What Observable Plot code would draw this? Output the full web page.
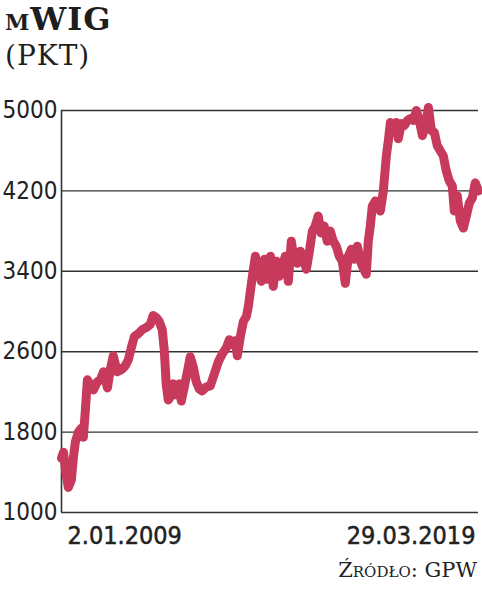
<!DOCTYPE html>
<html><head><meta charset="utf-8">
<script src="https://cdn.jsdelivr.net/npm/d3@7"></script>
<script src="https://cdn.jsdelivr.net/npm/@observablehq/plot@0.6"></script>
<style>
body{margin:0;background:#fff;width:482px;height:593px;position:relative;overflow:hidden}
#title{position:absolute;left:5px;top:3px;font-family:"DejaVu Serif";font-weight:bold;font-size:32px;line-height:32px;letter-spacing:1px;font-variant:small-caps;color:#1e1e1e;white-space:nowrap}
#sub{position:absolute;left:5px;top:42px;font-family:"DejaVu Serif";font-size:28px;line-height:28px;letter-spacing:1px;color:#1e1e1e;white-space:nowrap}
#chart{position:absolute;left:0;top:90px}
#source{position:absolute;right:5px;top:560px;font-family:"DejaVu Serif";font-size:21px;line-height:21px;font-variant:small-caps;color:#222;white-space:nowrap}
</style></head>
<body>
<div id="title">mWIG</div>
<div id="sub">(PKT)</div>
<div id="chart"></div>
<div id="source">Źródło: GPW</div>
<script>
const dates = ["2009-01-02","2009-01-20","2009-02-07","2009-03-04","2009-03-31","2009-04-18","2009-05-06","2009-06-02","2009-06-29","2009-07-17",
"2009-08-04","2009-08-22","2009-09-18","2009-10-15","2009-11-20","2009-12-17","2010-01-13","2010-02-18","2010-03-15","2010-04-11",
"2010-05-17","2010-06-22","2010-07-28","2010-08-24","2010-09-20","2010-10-17","2010-11-22","2010-12-28","2011-02-02","2011-03-08",
"2011-04-04","2011-05-01","2011-05-28","2011-06-24","2011-07-12","2011-07-30","2011-08-17","2011-09-04","2011-10-01","2011-10-28",
"2011-11-24","2011-12-12","2012-01-08","2012-02-13","2012-03-01","2012-03-28","2012-04-24","2012-05-21","2012-06-17","2012-07-23",
"2012-08-28","2012-10-03","2012-11-08","2012-12-14","2013-01-19","2013-02-15","2013-03-13","2013-04-09","2013-04-27","2013-05-24",
"2013-06-20","2013-07-17","2013-08-04","2013-08-22","2013-09-09","2013-10-06","2013-11-02","2013-11-29","2013-12-26","2014-01-22",
"2014-02-18","2014-03-15","2014-04-11","2014-05-08","2014-06-04","2014-07-01","2014-07-28","2014-08-24","2014-09-20","2014-10-17",
"2014-11-13","2014-12-10","2015-01-06","2015-02-02","2015-03-01","2015-03-26","2015-04-22","2015-05-19","2015-06-15","2015-07-12",
"2015-08-08","2015-09-04","2015-10-01","2015-10-28","2015-11-24","2015-12-21","2016-01-17","2016-02-13","2016-03-11","2016-04-07",
"2016-05-04","2016-05-30","2016-06-26","2016-07-14","2016-08-01","2016-08-19","2016-09-15","2016-10-12","2016-10-30","2016-11-26",
"2016-12-23","2017-01-10","2017-01-28","2017-02-24","2017-03-22","2017-04-09","2017-05-06","2017-06-02","2017-06-29","2017-07-26",
"2017-08-22","2017-09-18","2017-10-15","2017-11-11","2017-12-08","2018-01-04","2018-01-31","2018-02-27","2018-03-24","2018-04-20",
"2018-05-17","2018-06-13","2018-07-10","2018-08-06","2018-08-24","2018-09-20","2018-10-17","2018-11-13","2018-12-10","2019-01-06",
"2019-02-02","2019-02-28","2019-03-29"];
const values = [1540,1600,1420,1250,1320,1540,1700,1800,1840,1750,
2020,2320,2270,2220,2300,2320,2400,2240,2420,2560,
2400,2420,2460,2520,2640,2750,2780,2820,2840,2870,
2960,2940,2900,2820,2620,2270,2120,2150,2280,2170,
2280,2110,2250,2450,2550,2450,2300,2230,2210,2250,
2260,2380,2500,2580,2640,2720,2670,2710,2560,2750,
2900,2950,3050,3200,3350,3550,3400,3300,3520,3320,
3550,3250,3500,3350,3450,3550,3300,3700,3500,3480,
3600,3520,3420,3600,3800,3850,3950,3780,3850,3700,
3800,3700,3650,3550,3500,3280,3550,3620,3520,3650,
3500,3430,3370,3700,3850,4050,4100,4050,4000,4200,
4550,4700,4880,4850,4880,4720,4870,4850,4900,4920,
4900,5000,4900,4750,4850,5030,4800,4780,4650,4600,
4550,4400,4300,4250,4000,4150,3900,3830,3950,4080,
4130,4280,4200];
const yTicks = [1000,1800,2600,3400,4200,5000];
const xLabelDates = ["2009-01-02","2019-03-29"];
const xLabelTexts = ["2.01.2009","29.03.2019"];

const data = dates.map((d,i)=>({date:new Date(d), value:values[i]}));
const x0 = new Date(dates[0]), x1 = new Date(dates[dates.length-1]);
const labFont = {fontFamily:"'DejaVu Sans Condensed','DejaVu Sans'", fontSize:24, fill:"#222"};

const chart = Plot.plot({
  width:482, height:460,
  marginTop:20, marginBottom:38, marginLeft:61, marginRight:4,
  style:{background:"transparent", fontFamily:"'DejaVu Sans Condensed','DejaVu Sans'", fontStretch:"condensed", overflow:"visible"},
  x:{type:"utc", domain:[x0,x1], axis:null},
  y:{domain:[1000,5000], axis:null},
  marks:[
    Plot.ruleY(yTicks, {stroke:"#333", strokeWidth:1.4}),
    Plot.ruleX([x0], {y1:1000, y2:5000, stroke:"#333", strokeWidth:1.6}),
    Plot.axisY(yTicks, {tickSize:0, tickPadding:4, label:null, tickFormat:d=>String(d), ...labFont}),
    Plot.line(data, {x:"date", y:"value", stroke:"#c73a5b", strokeWidth:9, strokeLinejoin:"round", strokeLinecap:"round"}),
    Plot.text([0], {x:()=>new Date(xLabelDates[0]), y:()=>1000, text:()=>xLabelTexts[0], textAnchor:"start", lineAnchor:"bottom", dx:6, dy:31, ...labFont, fontSize:25, stroke:"#222", strokeWidth:0.5}),
    Plot.text([1], {x:()=>new Date(xLabelDates[1]), y:()=>1000, text:()=>xLabelTexts[1], textAnchor:"end", lineAnchor:"bottom", dx:-3, dy:31, ...labFont, fontSize:25, stroke:"#222", strokeWidth:0.5})
  ]
});
document.getElementById("chart").appendChild(chart);
</script>
</body></html>
